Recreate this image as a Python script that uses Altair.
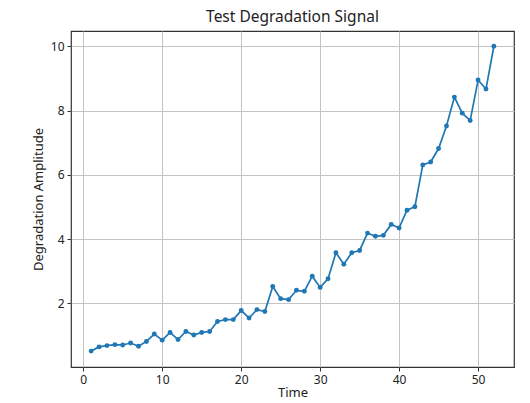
import altair as alt
import pandas as pd

# Degradation signal sampled at integer time steps
time = list(range(1, 53))
amplitude = [
    0.52, 0.65, 0.69, 0.72, 0.71, 0.77, 0.67, 0.82, 1.05, 0.86,
    1.10, 0.88, 1.13, 1.02, 1.10, 1.13, 1.44, 1.50, 1.50, 1.78,
    1.55, 1.81, 1.75, 2.53, 2.15, 2.12, 2.41, 2.38, 2.85, 2.50,
    2.77, 3.58, 3.22, 3.58, 3.65, 4.19, 4.09, 4.12, 4.46, 4.35,
    4.90, 5.01, 6.31, 6.40, 6.82, 7.52, 8.42, 7.92, 7.69, 8.95,
    8.67, 10.0,
]

df = pd.DataFrame({"Time": time, "Amplitude": amplitude})

blue = "#1f77b4"
font = "Noto Sans"

x_enc = alt.X(
    "Time:Q",
    scale=alt.Scale(domain=[-1.55, 54.55], nice=False, zero=False),
    axis=alt.Axis(title="Time", values=[0, 10, 20, 30, 40, 50], format="d"),
)
y_enc = alt.Y(
    "Amplitude:Q",
    scale=alt.Scale(domain=[0.025, 10.475], nice=False, zero=False),
    axis=alt.Axis(title="Degradation Amplitude", values=[2, 4, 6, 8, 10], format="d"),
)

line = alt.Chart(df).mark_line(color=blue, strokeWidth=1.7).encode(x=x_enc, y=y_enc)
dots = alt.Chart(df).mark_circle(color=blue, size=24, opacity=1).encode(x=x_enc, y=y_enc)

chart = (
    alt.layer(line, dots)
    .properties(
        width=443,
        height=336,
        title=alt.TitleParams("Test Degradation Signal", fontSize=15.5, font=font,
                              fontWeight="normal", color="#222222", offset=6),
        autosize=alt.AutoSizeParams(type="none"),
        padding={"left": 71, "top": 31, "right": 16, "bottom": 36},
    )
    .configure_view(stroke="#333333", strokeWidth=1.2)
    .configure_axis(
        labelFont=font,
        titleFont=font,
        labelFontSize=12,
        titleFontSize=13,
        titleFontWeight="normal",
        labelColor="#222222",
        titleColor="#222222",
        tickColor="#333333",
        tickSize=4,
        labelPadding=3,
        domain=False,
        grid=True,
        gridColor="#c4c4c4",
        gridWidth=1,
    )
    .configure_axisX(titlePadding=1)
    .configure_axisY(titlePadding=5)
)

chart.save("out.html", embed_options={"renderer": "svg", "actions": False})
